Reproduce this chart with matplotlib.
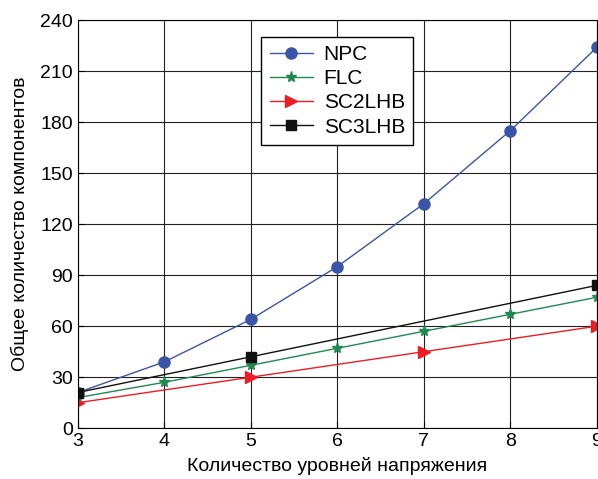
import numpy as np
import matplotlib.pyplot as plt

plt.rcParams['font.family'] = ['Liberation Sans', 'DejaVu Sans']

# Data
x_npc = [3, 4, 5, 6, 7, 8, 9]
npc = [21, 39, 64, 95, 132, 175, 224]
x_flc = [3, 4, 5, 6, 7, 8, 9]
flc = [18, 27, 37, 47, 57, 67, 77]
x_sc2 = [3, 5, 7, 9]
sc2 = [15, 30, 45, 60]
x_sc3 = [3, 5, 9]
sc3 = [21, 42, 84]

fig = plt.figure(figsize=(5.98, 4.79), dpi=100)
ax = fig.add_axes([0.130, 0.106, 0.868, 0.852])

ax.plot(x_npc, npc, color="#3a55a8", lw=1, marker="o", ms=8, label="NPC")
ax.plot(x_flc, flc, color="#1e8a50", lw=1, marker="*", ms=8, label="FLC")
ax.plot(x_sc2, sc2, color="#ee1c24", lw=1, marker=">", ms=8, label="SC2LHB")
ax.plot(x_sc3, sc3, color="#111111", lw=1, marker="s", ms=7, label="SC3LHB")

ax.set_xlim(3, 9)
ax.set_ylim(0, 240)
ax.set_xticks(range(3, 10))
ax.set_yticks(range(0, 241, 30))
ax.grid(True, color="#222222", lw=0.8)
ax.tick_params(direction="in", labelsize=14, length=4)
ax.set_xlabel("Количество уровней напряжения", fontsize=14, labelpad=5)
ax.set_ylabel("Общее количество компонентов", fontsize=14, labelpad=8)

leg = ax.legend(loc="upper center", bbox_to_anchor=(0.5, 0.985), fontsize=15,
                fancybox=False, framealpha=1, edgecolor="black",
                handlelength=2.1, handletextpad=0.5, borderpad=0.4,
                labelspacing=0.25)
leg.get_frame().set_linewidth(1)

fig.savefig("out.png")
